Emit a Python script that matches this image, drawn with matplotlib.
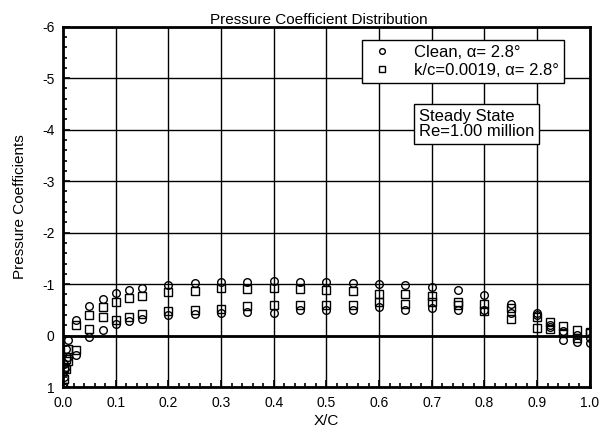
import matplotlib
matplotlib.use('Agg')
import matplotlib.pyplot as plt
from matplotlib.ticker import MultipleLocator

plt.rcParams['font.family'] = ['Liberation Sans', 'DejaVu Sans']

# chordwise tap locations
x_upper = [0.0, 0.0025, 0.005, 0.01, 0.025, 0.05, 0.075, 0.1, 0.125, 0.15, 0.2, 0.25,
           0.3, 0.35, 0.4, 0.45, 0.5, 0.55, 0.6, 0.65, 0.7, 0.75, 0.8, 0.85, 0.9,
           0.925, 0.95, 0.975, 1.0]
x_lower = [0.0025, 0.005, 0.01, 0.025, 0.05, 0.075, 0.1, 0.125, 0.15, 0.2, 0.25,
           0.3, 0.35, 0.4, 0.45, 0.5, 0.55, 0.6, 0.65, 0.7, 0.75, 0.8, 0.85, 0.9,
           0.925, 0.95, 0.975, 1.0]

# clean, alpha = 2.8
clean_upper = [1.0, 0.55, 0.25, 0.08, -0.30, -0.58, -0.71, -0.82, -0.89, -0.93, -0.99, -1.02,
               -1.05, -1.04, -1.06, -1.05, -1.05, -1.03, -1.00, -0.99, -0.95, -0.89, -0.79,
               -0.62, -0.45, -0.20, -0.10, -0.02, 0.05]
clean_lower = [0.80, 0.60, 0.42, 0.38, 0.02, -0.11, -0.22, -0.28, -0.33, -0.40, -0.42,
               -0.44, -0.46, -0.45, -0.49, -0.49, -0.49, -0.55, -0.49, -0.54, -0.50, -0.50,
               -0.45, -0.40, -0.16, 0.08, 0.12, 0.15]

# k/c = 0.0019, alpha = 2.8
rough_upper = [1.0, 0.62, 0.45, 0.25, -0.20, -0.41, -0.55, -0.65, -0.73, -0.77, -0.84, -0.87,
               -0.92, -0.91, -0.92, -0.90, -0.89, -0.87, -0.81, -0.81, -0.77, -0.65, -0.62,
               -0.53, -0.37, -0.26, -0.19, -0.11, -0.08]
rough_lower = [0.85, 0.65, 0.50, 0.27, -0.12, -0.36, -0.30, -0.37, -0.43, -0.47, -0.50,
               -0.52, -0.58, -0.59, -0.59, -0.60, -0.60, -0.65, -0.62, -0.65, -0.60, -0.47,
               -0.33, -0.15, -0.12, -0.06, 0.05, -0.05]

fig = plt.figure(figsize=(6, 4.37), dpi=100)
ax = fig.add_axes([0.105, 0.114, 0.878, 0.825])

mk = dict(linestyle='none', markerfacecolor='none', markeredgecolor='black',
          markeredgewidth=1.0, markersize=5.5, zorder=3)
ax.plot(x_upper, clean_upper, marker='o', label='Clean, α= 2.8°', **mk)
ax.plot(x_lower, clean_lower, marker='o', **mk)
ax.plot(x_upper, rough_upper, marker='s', label='k/c=0.0019, α= 2.8°', **mk)
ax.plot(x_lower, rough_lower, marker='s', **mk)

ax.set_xlim(0, 1)
ax.set_ylim(1, -6)
ax.xaxis.set_major_locator(MultipleLocator(0.1))
ax.xaxis.set_minor_locator(MultipleLocator(0.02))
ax.yaxis.set_major_locator(MultipleLocator(1))
ax.yaxis.set_minor_locator(MultipleLocator(0.2))
ax.set_xticklabels([f'{v:.1f}' for v in ax.get_xticks()])
ax.set_yticklabels([f'{v:.0f}' for v in ax.get_yticks()])
ax.tick_params(which='both', direction='in', labelsize=10, width=1.2)
ax.tick_params(which='major', length=5, pad=6)
ax.tick_params(which='minor', length=3)
ax.grid(True, which='major', color='black', linewidth=1.0)
ax.axhline(0, color='black', linewidth=2)
for s in ax.spines.values():
    s.set_linewidth(2)

ax.set_title('Pressure Coefficient Distribution', fontsize=11, pad=1, x=0.485)
ax.set_xlabel('X/C', fontsize=11, labelpad=3)
ax.set_ylabel('Pressure Coefficients', fontsize=11, labelpad=11)

leg = ax.legend(loc='upper right', bbox_to_anchor=(0.951, 0.963), fontsize=12,
                frameon=True, fancybox=False, edgecolor='black', framealpha=1,
                markerscale=0.75, handlelength=1.85, handletextpad=1.0, borderpad=0.3,
                labelspacing=0.2, borderaxespad=0)
leg.get_frame().set_linewidth(1.0)

ax.text(0.676, 0.731, 'Steady State\nRe=1.00 million', transform=ax.transAxes,
        fontsize=12, va='center', ha='left', zorder=5, linespacing=1.0,
        bbox=dict(boxstyle='square,pad=0.3', facecolor='white', edgecolor='black', linewidth=1.0))

plt.savefig('out.png', dpi=100)
